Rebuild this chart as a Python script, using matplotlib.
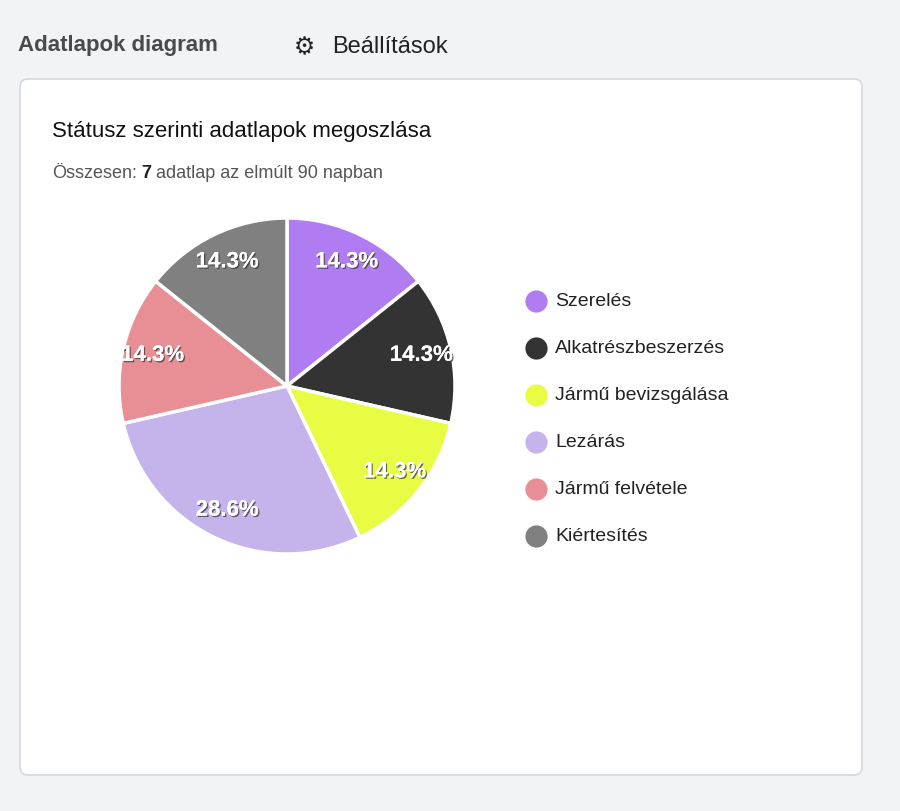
import matplotlib.pyplot as plt
import matplotlib.patheffects as pe
from matplotlib.patches import FancyBboxPatch

plt.rcParams['font.family'] = ['Liberation Sans', 'DejaVu Sans']

# Status data of the datasheets
labels = ['Szerelés', 'Alkatrészbeszerzés', 'Jármű bevizsgálása', 'Lezárás', 'Jármű felvétele', 'Kiértesítés']
counts = [1, 1, 1, 2, 1, 1]
colors = ['#b07cf2', '#333333', '#e8fc44', '#c5b3ec', '#e88f96', '#808080']

# Create the figure with a page-like background
fig = plt.figure(figsize=(9, 8.12), dpi=100, facecolor='#f2f3f5')

# Overlay axes in pixel coordinates for the card, texts and legend
bg = fig.add_axes([0, 0, 1, 1])
bg.set_xlim(0, 900)
bg.set_ylim(812, 0)
bg.axis('off')
card = FancyBboxPatch((20, 80), 842, 696, boxstyle='round,pad=0,rounding_size=8',
                      facecolor='white', edgecolor='#d5d8dc', linewidth=1.2)
bg.add_patch(card)

plt.text(18, 46, 'Adatlapok diagram', fontsize=16, fontweight='bold', color='#4a4a4a', va='center')
plt.text(294, 47, '⚙', fontsize=17, color='#222222', va='center', family='DejaVu Sans')
plt.text(332, 47, 'Beállítások', fontsize=17, color='#222222', va='center')
plt.text(52, 132, 'Státusz szerinti adatlapok megoszlása', fontsize=16, color='#111111', va='center')
plt.text(52, 174, 'Összesen:', fontsize=13, color='#555555', va='center')
plt.text(141, 174, '7', fontsize=13, fontweight='bold', color='#222222', va='center')
plt.text(156, 174, 'adatlap az elmúlt 90 napban', fontsize=13, color='#555555', va='center')

# Legend drawn as colored dots with labels
for i, name in enumerate(labels):
    y = 302 + i * 47
    plt.plot(536, y, 'o', markersize=17, markerfacecolor=colors[i], markeredgecolor='white')
    plt.text(555, y, name, fontsize=14, color='#222222', va='center')

# Pie chart axes
ax = fig.add_axes([119 / 900, 257 / 812, 336 / 900, 336 / 812])
wedges, texts, autotexts = ax.pie(counts, colors=colors, startangle=90, counterclock=False,
                                  autopct='%1.1f%%', pctdistance=0.82, radius=1,
                                  wedgeprops=dict(edgecolor='white', linewidth=2.5))
for t in autotexts:
    t.set_color('white')
    t.set_fontsize(16)
    t.set_fontweight('bold')
    t.set_path_effects([pe.withSimplePatchShadow(offset=(1, -1), shadow_rgbFace='#333333', alpha=0.7), pe.Normal()])
ax.set_xlim(-1, 1)
ax.set_ylim(-1, 1)
ax.set_aspect('equal')

plt.savefig('out.png', dpi=100, facecolor=fig.get_facecolor())
